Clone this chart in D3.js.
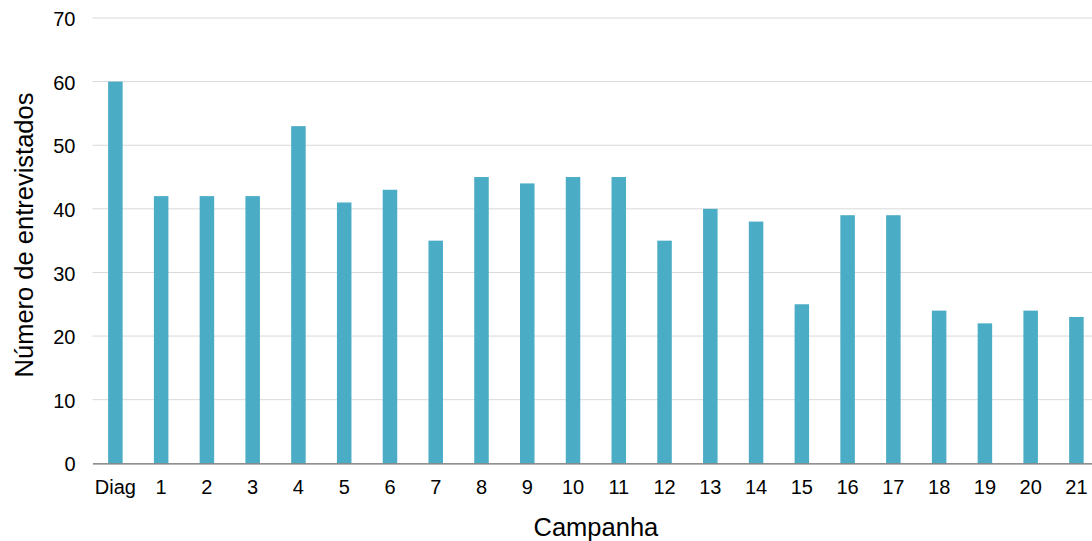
<!DOCTYPE html>
<html>
<head>
<meta charset="utf-8">
<script src="https://cdn.jsdelivr.net/npm/d3@7"></script>
<style>
  html, body { margin: 0; padding: 0; background: #fff; }
  svg { display: block; }
  text { font-family: "Liberation Sans", Arial, sans-serif; fill: #000; }
</style>
</head>
<body>
<svg id="chart" width="1092" height="541"></svg>
<script>
// Interviewees per campaign
const categories = ["Diag", "1", "2", "3", "4", "5", "6", "7", "8", "9", "10",
  "11", "12", "13", "14", "15", "16", "17", "18", "19", "20", "21"];
const interviewees = [60, 42, 42, 42, 53, 41, 43, 35, 45, 44, 45,
  45, 35, 40, 38, 25, 39, 39, 24, 22, 24, 23];
const yTicks = [0, 10, 20, 30, 40, 50, 60, 70];

const svg = d3.select("#chart");
const plotLeft = 92.5, plotRight = 1099.3, plotTop = 18, plotBottom = 463.3;

const x = d3.scaleBand()
  .domain(categories)
  .range([plotLeft, plotRight])
  .paddingInner(0.683)
  .paddingOuter(0.3415);

const y = d3.scaleLinear().domain([0, 70]).range([plotBottom, plotTop]);

// Horizontal gridlines
svg.append("g")
  .selectAll("line")
  .data(yTicks.filter(d => d > 0))
  .join("line")
  .attr("x1", plotLeft).attr("x2", plotRight)
  .attr("y1", d => y(d)).attr("y2", d => y(d))
  .attr("stroke", "#d9d9d9")
  .attr("stroke-width", 1);

// Bars
svg.append("g")
  .selectAll("rect")
  .data(interviewees)
  .join("rect")
  .attr("x", (d, i) => x(categories[i]))
  .attr("width", x.bandwidth())
  .attr("y", d => y(d))
  .attr("height", d => y(0) - y(d))
  .attr("fill", "#4bacc6");

// Y axis labels
const yAxis = d3.axisLeft(y).tickValues(yTicks).tickSize(0).tickPadding(17);
const gy = svg.append("g").attr("transform", `translate(${plotLeft},0)`).call(yAxis);
gy.select(".domain").remove();
gy.selectAll("text")
  .attr("dy", "0.38em")
  .style("font-size", "20px")
  .style("font-family", "'Liberation Sans', Arial, sans-serif")
  .attr("fill", "#000");

// X axis
const xAxis = d3.axisBottom(x).tickSize(0).tickPadding(16.5);
const gx = svg.append("g").attr("transform", `translate(0,${plotBottom})`).call(xAxis);
gx.select(".domain").attr("stroke", "#6b6b6b").attr("stroke-width", 1.3);
gx.selectAll("text")
  .style("font-size", "20px")
  .style("font-family", "'Liberation Sans', Arial, sans-serif")
  .attr("fill", "#000");

// Axis titles
svg.append("text")
  .attr("x", (plotLeft + plotRight) / 2)
  .attr("y", 535.5)
  .attr("text-anchor", "middle")
  .style("font-size", "25.5px")
  .text("Campanha");

svg.append("text")
  .attr("transform", `translate(33,${235}) rotate(-90)`)
  .attr("text-anchor", "middle")
  .style("font-size", "25.5px")
  .text("Número de entrevistados");
</script>
</body>
</html>
